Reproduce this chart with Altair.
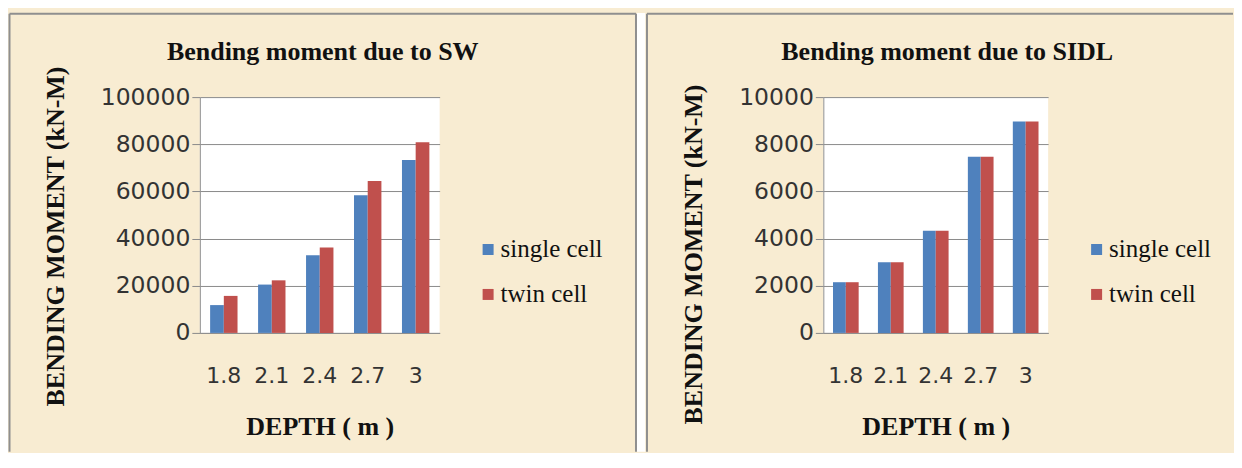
import altair as alt
import pandas as pd

depths = ["1.8", "2.1", "2.4", "2.7", "3"]
series = ["single cell", "twin cell"]
sw_single = [11800, 20500, 32900, 58400, 73300]
sw_twin = [15700, 22300, 36200, 64400, 80900]
sidl_single = [2150, 3000, 4330, 7470, 8970]
sidl_twin = [2150, 3000, 4330, 7470, 8970]
sw_ticks = [0, 20000, 40000, 60000, 80000, 100000]
sidl_ticks = [0, 2000, 4000, 6000, 8000, 10000]
colors = ["#4F81BD", "#C0504D"]

BEIGE = "#F8ECD2"
FRAME = "#8f8f8f"
SERIF = "Liberation Serif"
SANS = "DejaVu Sans"


def make_df(a, b):
    rows = []
    for d, v in zip(depths, a):
        rows.append({"depth": d, "series": series[0], "value": v})
    for d, v in zip(depths, b):
        rows.append({"depth": d, "series": series[1], "value": v})
    return pd.DataFrame(rows)


def panel(df, ticks, title, W, H, frame_left, frame_right, closed, title_x,
          ytitle_x, ytitle_y, legend_x):
    one = alt.Data(values=[{}])
    bars = alt.Chart(df).mark_bar().encode(
        x=alt.X("depth:N", sort=depths,
                scale=alt.Scale(paddingInner=0.4286, paddingOuter=0.2143),
                axis=alt.Axis(title="DEPTH ( m )", labelAngle=0, ticks=False,
                              labelPadding=43, labelBaseline="middle",
                              labelFont=SANS, labelFontSize=22, labelColor="#333333",
                              titleFont=SERIF, titleFontSize=26, titleFontWeight="bold",
                              titleColor="#111111", titleBaseline="alphabetic",
                              titleY=102, titleX=W / 2, titleAlign="center",
                              domainColor=FRAME, domainWidth=1)),
        xOffset=alt.XOffset("series:N", sort=series,
                            scale=alt.Scale(paddingInner=0, paddingOuter=0)),
        y=alt.Y("value:Q", scale=alt.Scale(domain=[ticks[0], ticks[-1]], nice=False),
                axis=alt.Axis(title="BENDING MOMENT  (kN-M)", values=ticks, format="d",
                              grid=True, gridColor="#8a8a8a", gridWidth=1,
                              tickSize=8, tickColor="#8a8a8a", labelPadding=2,
                              labelFont=SANS, labelFontSize=23.5, labelColor="#333333",
                              domainColor=FRAME, domainWidth=1,
                              titleFont=SERIF, titleFontSize=26, titleFontWeight="bold",
                              titleColor="#111111", titleBaseline="alphabetic",
                              titleAngle=270, titleAlign="center",
                              titleX=ytitle_x, titleY=ytitle_y)),
        color=alt.Color("series:N", sort=series,
                        scale=alt.Scale(domain=series, range=colors),
                        legend=alt.Legend(title=None, orient="none", legendX=legend_x,
                                          legendY=140, padding=0, symbolType="square",
                                          symbolSize=121, symbolStrokeWidth=0,
                                          labelOffset=0, labelFont=SERIF,
                                          labelFontSize=25, labelColor="#111111",
                                          rowPadding=19, labelBaseline="middle")),
    )
    top = -83.5
    bottom = 355
    layers = []
    if closed:
        layers.append(alt.Chart(one).mark_rect(color="white").encode(
            x=alt.value(frame_right + 1), x2=alt.value(frame_right + 9.25),
            y=alt.value(top - 0.75), y2=alt.value(bottom)))
        layers.append(alt.Chart(one).mark_rule(color=FRAME, strokeWidth=2).encode(
            x=alt.value(frame_right), y=alt.value(top), y2=alt.value(bottom)))
    layers.append(alt.Chart(one).mark_rule(color=FRAME, strokeWidth=2).encode(
        x=alt.value(frame_left), y=alt.value(top), y2=alt.value(bottom)))
    layers.append(alt.Chart(one).mark_rule(color=FRAME, strokeWidth=2).encode(
        x=alt.value(frame_left), x2=alt.value(frame_right), y=alt.value(top)))
    layers.append(bars)
    layers.append(alt.Chart(one).mark_text(text=title, font=SERIF, fontSize=26,
                                           fontWeight="bold", color="#111111",
                                           align="center", baseline="alphabetic").encode(
        x=alt.value(title_x), y=alt.value(-37)))
    return alt.layer(*layers).properties(width=W, height=H)


left = panel(make_df(sw_single, sw_twin), sw_ticks, "Bending moment due to SW",
             240, 236, -190.5, 436.5, True, 123, -136, 139, 276)
right = panel(make_df(sidl_single, sidl_twin), sidl_ticks, "Bending moment due to SIDL",
              225, 236, -176.5, 410, False, 124, -122, 157, 261)

chart = alt.hconcat(left, right, spacing=0).resolve_scale(
    x="independent", y="independent", color="independent", xOffset="independent"
).properties(
    padding={"left": 0, "top": 4, "right": 0, "bottom": 0},
    background=BEIGE,
).configure_view(fill="white", stroke=None)

chart.save("out.html", embed_options={"renderer": "svg", "actions": False})
